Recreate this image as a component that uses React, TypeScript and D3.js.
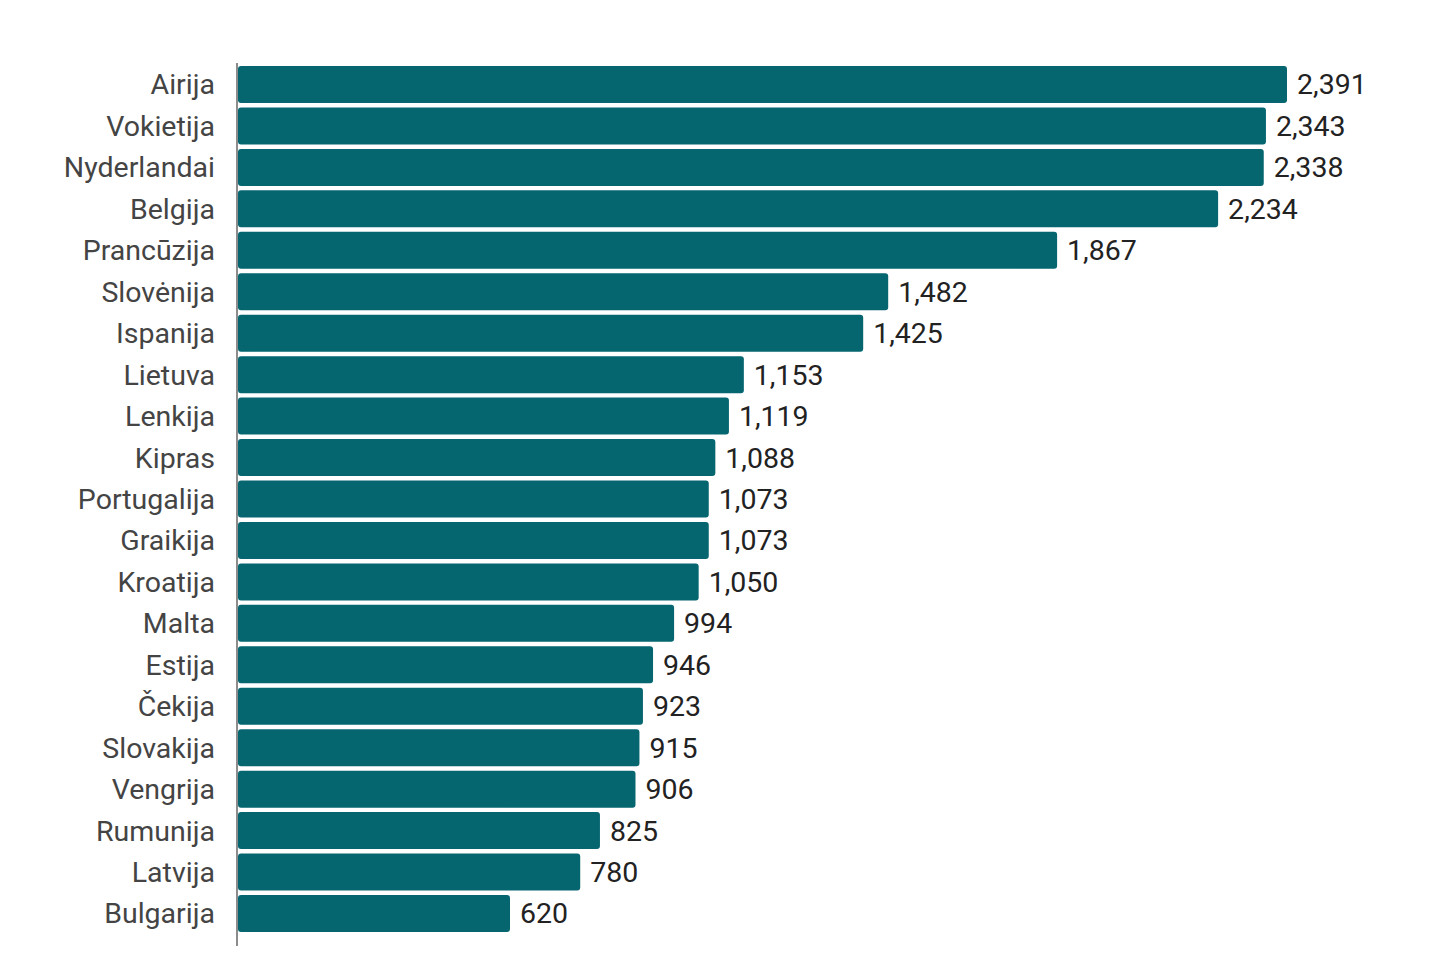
import React from "react";
import * as d3 from "d3";

const countries = [
  "Airija", "Vokietija", "Nyderlandai", "Belgija", "Prancūzija", "Slovėnija", "Ispanija",
  "Lietuva", "Lenkija", "Kipras", "Portugalija", "Graikija", "Kroatija", "Malta", "Estija",
  "Čekija", "Slovakija", "Vengrija", "Rumunija", "Latvija", "Bulgarija",
];
const values = [
  2391, 2343, 2338, 2234, 1867, 1482, 1425, 1153, 1119, 1088, 1073, 1073, 1050, 994, 946,
  923, 915, 906, 825, 780, 620,
];

const W = 1440;
const H = 960;
const left = 238;
const top = 66;
const bottom = 932;

export default function App() {
  const x = d3.scaleLinear().domain([0, 2391]).range([left, 1287]);
  const y = d3.scaleBand<string>().domain(countries).range([top, bottom]).paddingInner(0.107).paddingOuter(0);
  const fmt = d3.format(",");
  return (
    <svg width={W} height={H} style={{ position: "absolute", left: 0, top: 0, background: "#fff" }}
      fontFamily="Roboto, 'Noto Sans', sans-serif">
      {countries.map((c, i) => {
        const yy = y(c)!;
        const bw = y.bandwidth();
        return (
          <g key={c}>
            <rect x={left} y={yy} width={x(values[i]) - left} height={bw} rx={3} fill="#066670" />
            <text x={215} y={yy + bw / 2} dy="0.35em" textAnchor="end" fontSize={28.5} fill="#444">{c}</text>
            <text x={x(values[i]) + 10} y={yy + bw / 2} dy="0.35em" fontSize={28.5} fill="#222">{fmt(values[i])}</text>
          </g>
        );
      })}
      <line x1={237} x2={237} y1={63} y2={946} stroke="#666" strokeWidth={1.5} />
    </svg>
  );
}
